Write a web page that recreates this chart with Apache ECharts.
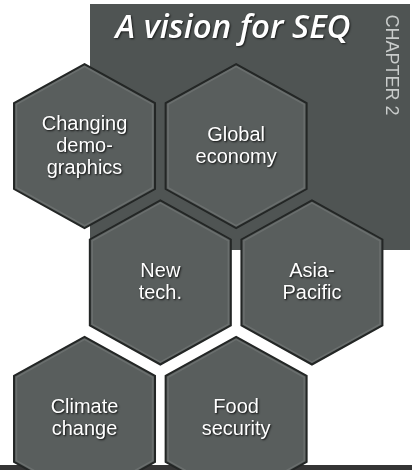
<!DOCTYPE html>
<html>
<head>
<meta charset="utf-8">
<script src="https://cdn.jsdelivr.net/npm/echarts@6/dist/echarts.min.js"></script>
<style>
html,body{margin:0;padding:0;background:#ffffff;}
#chart{width:412px;height:470px;}
</style>
</head>
<body>
<div id="chart"></div>
<script>
// ---- data ----
const TITLE = 'A vision for SEQ';
const CHAPTER = 'CHAPTER 2';
const LABELS = ['Changing\ndemo-\ngraphics', 'Global\neconomy', 'New\ntech.', 'Asia-\nPacific', 'Climate\nchange', 'Food\nsecurity'];
// honeycomb grid positions (column in half-hex steps, row index)
const COLS = [0, 2, 1, 3, 0, 2];
const ROWS = [0, 0, 1, 1, 2, 2];

// ---- style constants (px) ----
const HALF_W = 70.5, HALF_H = 82, HALF_SIDE = 43;

const chart = echarts.init(document.getElementById('chart'), null, {renderer: 'canvas'});
const data = LABELS.map((l, i) => [COLS[i], ROWS[i]]);

chart.setOption({
  animation: false,
  backgroundColor: '#ffffff',
  grid: {left: 0, right: 0, top: 0, bottom: 0},
  xAxis: {type: 'value', min: -1.115, max: 4.32, show: false},
  yAxis: {type: 'value', min: -1.07, max: 2.374, inverse: true, show: false},
  graphic: [
    {type: 'rect', z: -10, shape: {x: 90, y: 4, width: 320, height: 246}, style: {fill: '#4f5453'}},
    {type: 'rect', z: -10, shape: {x: 0, y: 465, width: 412, height: 5}, style: {fill: '#353535'}},
    {type: 'text', z: 10, x: 233, y: 29, style: {
      text: TITLE, fill: '#ffffff', font: 'italic 600 33px "Open Sans", sans-serif',
      align: 'center', verticalAlign: 'middle',
      textShadowColor: 'rgba(0,0,0,0.7)', textShadowBlur: 2, textShadowOffsetX: 1, textShadowOffsetY: 1
    }},
    {type: 'text', z: 10, x: 391, y: 65, rotation: -Math.PI / 2, style: {
      text: CHAPTER, fill: '#c9cccb', font: '18px "Liberation Sans Narrow", "Liberation Sans", sans-serif',
      align: 'center', verticalAlign: 'middle'
    }}
  ],
  series: [{
    type: 'custom',
    coordinateSystem: 'cartesian2d',
    data: data,
    renderItem: function (params, api) {
      const c = api.coord([api.value(0), api.value(1)]);
      const off = [[0, -HALF_H], [HALF_W, -HALF_SIDE], [HALF_W, HALF_SIDE], [0, HALF_H], [-HALF_W, HALF_SIDE], [-HALF_W, -HALF_SIDE]];
      const pts = off.map(p => [c[0] + p[0], c[1] + p[1]]);
      const inner = off.map(p => [c[0] + p[0] * 0.965, c[1] + p[1] * 0.97]);
      return {
        type: 'group',
        children: [
          {type: 'polygon', shape: {points: pts}, style: {fill: '#595e5d', stroke: '#232625', lineWidth: 2}},
          {type: 'polygon', shape: {points: inner}, style: {fill: 'none', stroke: 'rgba(255,255,255,0.10)', lineWidth: 1.5}},
          {type: 'text', x: c[0], y: c[1], style: {
            text: LABELS[params.dataIndex], fill: '#ffffff',
            font: '20px "Liberation Sans", Arial, sans-serif', lineHeight: 22,
            align: 'center', verticalAlign: 'middle',
            textShadowColor: 'rgba(0,0,0,0.85)', textShadowBlur: 2, textShadowOffsetX: 1, textShadowOffsetY: 1
          }}
        ]
      };
    }
  }]
});
</script>
</body>
</html>
